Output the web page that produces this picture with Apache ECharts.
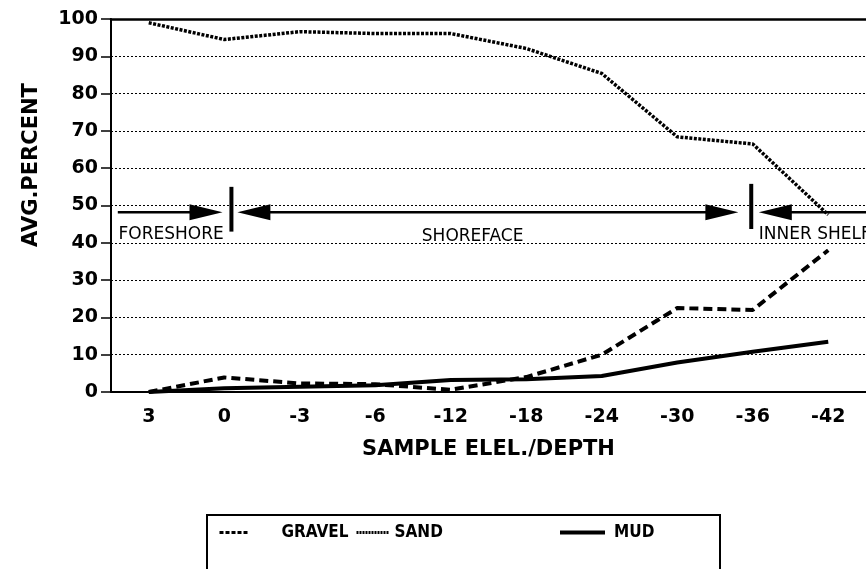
<!DOCTYPE html>
<html>
<head>
<meta charset="utf-8">
<script src="https://cdn.jsdelivr.net/npm/echarts@6/dist/echarts.min.js"></script>
<style>
  html, body { margin: 0; padding: 0; background: #fff; }
  #main { width: 866px; height: 569px; }
</style>
</head>
<body>
<div id="main"></div>
<script>
// sample elevation / depth categories
var categories = ['3', '0', '-3', '-6', '-12', '-18', '-24', '-30', '-36', '-42'];
var gravel = [0, 3.9, 2.3, 2.1, 0.6, 4, 10, 22.5, 22, 38];
var sand = [99, 94.5, 96.6, 96.1, 96.1, 92.1, 85.4, 68.4, 66.5, 47.5];
var mud = [0, 1, 1.4, 1.8, 3.2, 3.4, 4.3, 7.9, 10.8, 13.5];
var yTicks = [0, 10, 20, 30, 40, 50, 60, 70, 80, 90, 100];

var FONT = "'DejaVu Sans', sans-serif";
var LEGEND_FONT = "'DejaVu Sans Condensed', " + FONT;
var chart = echarts.init(document.getElementById('main'), null, { renderer: 'canvas' });

function legendText(padLeft) {
  return { fontFamily: LEGEND_FONT, fontWeight: 'bold', fontSize: 17, color: '#000', padding: [0, 0, 0, padLeft] };
}

var option = {
  backgroundColor: '#ffffff',
  animation: false,
  grid: { left: 111, top: 19, width: 758, height: 373, containLabel: false },
  legend: [{
    data: ['GRAVEL'], left: 218, top: 524, padding: 0, itemWidth: 30, itemHeight: 14,
    itemStyle: { opacity: 0 },
    lineStyle: { width: 3, type: [4, 2] },
    textStyle: legendText(27)
  }, {
    data: ['SAND'], left: 355, top: 524, padding: 0, itemWidth: 32, itemHeight: 14,
    itemStyle: { opacity: 0 },
    lineStyle: { width: 3, type: [2, 1] },
    textStyle: legendText(1)
  }, {
    data: ['MUD'], left: 558, top: 524, padding: 0, itemWidth: 45, itemHeight: 14,
    itemStyle: { opacity: 0 },
    lineStyle: { width: 4, type: 'solid' },
    textStyle: legendText(4)
  }],
  xAxis: [{
    type: 'category',
    data: categories,
    boundaryGap: true,
    name: 'SAMPLE ELEL./DEPTH',
    nameLocation: 'middle',
    nameGap: 47,
    nameTextStyle: { fontFamily: FONT, fontWeight: 'bold', fontSize: 21, color: '#000' },
    axisLine: { lineStyle: { color: '#000', width: 2 } },
    axisTick: { alignWithLabel: true, length: 6, lineStyle: { color: '#000', width: 2 } },
    axisLabel: { margin: 16, fontFamily: FONT, fontWeight: 'bold', fontSize: 19, color: '#000' },
    splitLine: { show: false }
  }, {
    type: 'category',
    data: categories,
    position: 'top',
    axisLine: { show: true, lineStyle: { color: '#000', width: 2.5 } },
    axisTick: { show: false },
    axisLabel: { show: false }
  }],
  yAxis: {
    type: 'value',
    min: 0,
    max: 100,
    interval: 10,
    axisLine: { show: true, lineStyle: { color: '#000', width: 2 } },
    axisTick: { show: true, inside: false, length: 10, lineStyle: { color: '#000', width: 1.5 } },
    axisLabel: {
      margin: 13, fontFamily: FONT, fontWeight: 'bold', fontSize: 19, color: '#000',
      formatter: function (v) { return yTicks.indexOf(v) >= 0 ? String(v) : ''; }
    },
    splitLine: { show: true, lineStyle: { color: '#000', width: 1, type: [2, 2] } }
  },
  series: [{
    name: 'GRAVEL',
    type: 'line',
    data: gravel,
    symbol: 'none',
    lineStyle: { color: '#000', width: 4, type: [9, 5] },
    itemStyle: { color: '#000' },
    z: 5
  }, {
    name: 'SAND',
    type: 'line',
    data: sand,
    symbol: 'none',
    lineStyle: { color: '#000', width: 3.5, type: [3, 1.5] },
    itemStyle: { color: '#000' },
    z: 5
  }, {
    name: 'MUD',
    type: 'line',
    data: mud,
    symbol: 'none',
    lineStyle: { color: '#000', width: 4 },
    itemStyle: { color: '#000' },
    z: 4
  }]
};
chart.setOption(option);

// zone annotations, positioned in axis units (category index, percent)
function px(f) {
  var a = chart.convertToPixel({ xAxisIndex: 0 }, 0);
  var b = chart.convertToPixel({ xAxisIndex: 0 }, 1);
  return a + f * (b - a);
}
function py(v) { return chart.convertToPixel({ yAxisIndex: 0 }, v); }

var arrowY = py(48.2);
var headLen = 33, headHalf = 8;
function rightHead(tipF) {
  var t = px(tipF);
  return { type: 'polygon', shape: { points: [[t, arrowY], [t - headLen, arrowY - headHalf], [t - headLen, arrowY + headHalf]] }, style: { fill: '#000' }, z: 20 };
}
function leftHead(tipF) {
  var t = px(tipF);
  return { type: 'polygon', shape: { points: [[t, arrowY], [t + headLen, arrowY - headHalf], [t + headLen, arrowY + headHalf]] }, style: { fill: '#000' }, z: 20 };
}
function seg(f1, f2) {
  return { type: 'line', shape: { x1: px(f1), y1: arrowY, x2: px(f2), y2: arrowY }, style: { stroke: '#000', lineWidth: 2.5 }, z: 20 };
}
function bar(f, v1, v2) {
  return { type: 'line', shape: { x1: px(f), y1: py(v1), x2: px(f), y2: py(v2) }, style: { stroke: '#000', lineWidth: 4 }, z: 20 };
}
function label(text, f, v, align) {
  return { type: 'text', x: px(f), y: py(v), style: { text: text, fill: '#000', font: '17px ' + FONT, align: align, verticalAlign: 'middle' }, z: 20 };
}

chart.setOption({
  graphic: [
    seg(-0.41, 0.6), rightHead(0.977),
    bar(1.095, 55, 43),
    leftHead(1.174), seg(1.5, 7.4), rightHead(7.81),
    bar(7.98, 55.8, 43.7),
    leftHead(8.08), seg(8.4, 9.5),
    label('FORESHORE', -0.40, 42.1, 'left'),
    label('SHOREFACE', 4.29, 41.6, 'center'),
    label('INNER SHELF', 8.08, 42.1, 'left'),
    { type: 'text', x: 32, y: 165, rotation: Math.PI / 2,
      style: { text: 'AVG.PERCENT', fill: '#000', font: 'bold 21px ' + FONT, align: 'center', verticalAlign: 'middle' } },
    { type: 'rect', shape: { x: 207, y: 515, width: 513, height: 90 },
      style: { fill: 'none', stroke: '#000', lineWidth: 2 }, z: 1 }
  ]
});
</script>
</body>
</html>
